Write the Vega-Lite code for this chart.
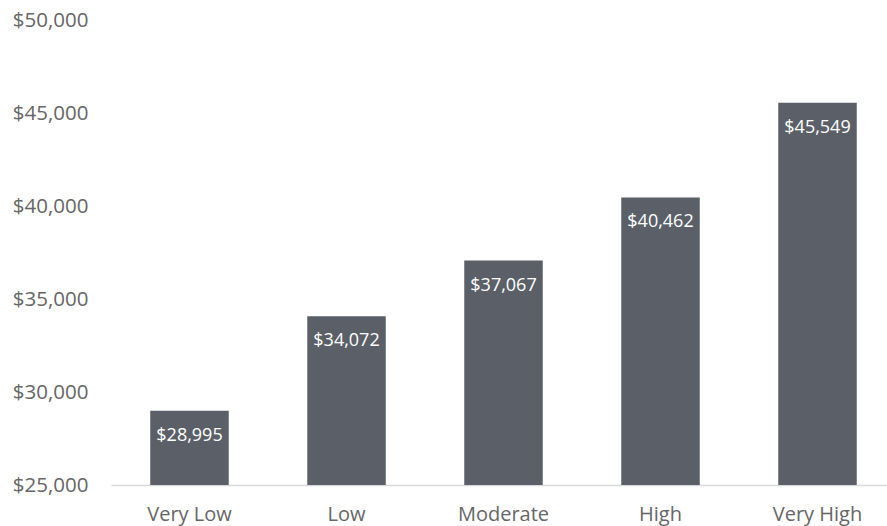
{
  "$schema": "https://vega.github.io/schema/vega-lite/v6.json",
  "autosize": "none",
  "width": 785,
  "height": 465,
  "padding": {"left": 111, "top": 20, "right": -9, "bottom": 41},
  "background": "white",
  "config": {"view": {"stroke": null}, "font": "Open Sans"},
  "data": {"values": [
    {"category": "Very Low", "value": 28995},
    {"category": "Low", "value": 34072},
    {"category": "Moderate", "value": 37067},
    {"category": "High", "value": 40462},
    {"category": "Very High", "value": 45549}
  ]},
  "encoding": {
    "x": {"field": "category", "type": "nominal", "sort": null,
      "scale": {"paddingInner": 0.5, "paddingOuter": 0.25},
      "axis": {"title": null, "labelAngle": 0, "labelFont": "Open Sans", "labelFontSize": 20, "labelColor": "#666666", "ticks": false, "tickSize": 0, "labelPadding": 19, "domainColor": "#d9d9d9", "domainWidth": 1.5}},
    "y": {"field": "value", "type": "quantitative",
      "scale": {"domain": [25000, 50000], "zero": false, "nice": false},
      "axis": {"title": null, "values": [25000, 30000, 35000, 40000, 45000, 50000], "format": "$,.0f", "grid": false, "domain": false, "ticks": false, "tickSize": 0, "labelPadding": 23, "labelFont": "Open Sans", "labelFontSize": 20.5, "labelColor": "#666666"}}
  },
  "layer": [
    {"mark": {"type": "bar", "color": "#5b5f67", "clip": true}},
    {"mark": {"type": "text", "color": "white", "font": "Open Sans", "fontSize": 18, "baseline": "middle", "dy": 25},
      "encoding": {"text": {"field": "value", "type": "quantitative", "format": "$,.0f"}}}
  ]
}
